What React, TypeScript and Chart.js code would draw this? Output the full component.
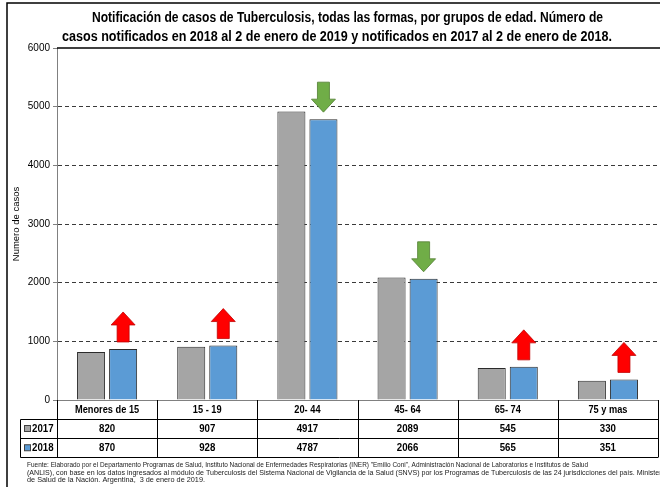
import React, { useEffect, useRef } from 'react';
import { Chart, registerables } from 'chart.js';

Chart.register(...registerables);

const categories = ['Menores de 15', '15 - 19', '20- 44', '45- 64', '65- 74', '75 y mas'];
const cases2017 = [820, 907, 4917, 2089, 545, 330];
const cases2018 = [870, 928, 4787, 2066, 565, 351];
const seriesLabels = ['2017', '2018'];
const yMin = 0;
const yMax = 6000;
const yStep = 1000;
const yTitle = 'Numero de casos';
const titleLines = [
  'Notificación de casos de Tuberculosis, todas las formas, por grupos de edad. Número de',
  'casos notificados en 2018 al 2 de enero de 2019 y notificados en 2017 al 2 de enero de 2018.',
];
const footnoteLines = [
  'Fuente: Elaborado por el Departamento Programas de Salud, Instituto Nacional de Enfermedades Respiratorias (INER) "Emilio Coni", Administración Nacional de Laboratorios e Institutos de Salud',
  '(ANLIS), con base en los datos ingresados al módulo de Tuberculosis del Sistema Nacional de Vigilancia de la Salud (SNVS) por los Programas de Tuberculosis de las 24 jurisdicciones del país. Ministerio',
  'de Salud de la Nación. Argentina,  3 de enero de 2019.',
];

const FONT = "'Liberation Sans', Arial, sans-serif";
const GRAY = '#a5a5a5';
const BLUE = '#5b9bd5';
const BAR_BORDER = '#2b2b2b';

function drawText(
  ctx: CanvasRenderingContext2D,
  text: string,
  x: number,
  y: number,
  font: string,
  align: CanvasTextAlign,
  scaleX: number,
  color = '#000'
) {
  ctx.save();
  ctx.font = font;
  ctx.fillStyle = color;
  ctx.textAlign = align;
  ctx.textBaseline = 'middle';
  const w = ctx.measureText(text).width;
  ctx.fillText(text, x, y, w * scaleX);
  ctx.restore();
}

function drawTextFit(
  ctx: CanvasRenderingContext2D,
  text: string,
  x: number,
  y: number,
  font: string,
  align: CanvasTextAlign,
  width: number,
  color = '#000'
) {
  ctx.save();
  ctx.font = font;
  ctx.fillStyle = color;
  ctx.textAlign = align;
  ctx.textBaseline = 'middle';
  ctx.fillText(text, x, y, width);
  ctx.restore();
}

function drawArrow(ctx: CanvasRenderingContext2D, cx: number, bottom: number, up: boolean) {
  const h = 30;
  const w = 24;
  const shaft = 12;
  const head = 13;
  const top = bottom - h;
  ctx.save();
  ctx.beginPath();
  if (up) {
    ctx.moveTo(cx, top);
    ctx.lineTo(cx + w / 2, top + head);
    ctx.lineTo(cx + shaft / 2, top + head);
    ctx.lineTo(cx + shaft / 2, bottom);
    ctx.lineTo(cx - shaft / 2, bottom);
    ctx.lineTo(cx - shaft / 2, top + head);
    ctx.lineTo(cx - w / 2, top + head);
  } else {
    ctx.moveTo(cx, bottom);
    ctx.lineTo(cx + w / 2, bottom - head);
    ctx.lineTo(cx + shaft / 2, bottom - head);
    ctx.lineTo(cx + shaft / 2, top);
    ctx.lineTo(cx - shaft / 2, top);
    ctx.lineTo(cx - shaft / 2, bottom - head);
    ctx.lineTo(cx - w / 2, bottom - head);
  }
  ctx.closePath();
  ctx.fillStyle = up ? '#ff0000' : '#70ad47';
  ctx.fill();
  ctx.lineWidth = 0.8;
  ctx.strokeStyle = up ? '#c00000' : '#507e32';
  ctx.stroke();
  ctx.restore();
}

const overlayPlugin = {
  id: 'overlay',
  afterDraw(chart: any) {
    const ctx: CanvasRenderingContext2D = chart.ctx;
    const area = chart.chartArea;
    const xs = chart.scales.x;
    const W = chart.width;
    const H = chart.height;

    // outer frame
    ctx.save();
    ctx.strokeStyle = '#000';
    ctx.lineWidth = 1.5;
    ctx.beginPath();
    ctx.moveTo(7, H + 2);
    ctx.lineTo(7, 3);
    ctx.lineTo(W + 2, 3);
    ctx.stroke();
    ctx.restore();

    // title
    drawTextFit(ctx, titleLines[0], 347.5, 18, `bold 14px ${FONT}`, 'center', 511);
    drawTextFit(ctx, titleLines[1], 337, 37, `bold 14px ${FONT}`, 'center', 550);

    // top solid line and bottom axis
    ctx.save();
    ctx.strokeStyle = '#000';
    ctx.lineWidth = 1.5;
    ctx.beginPath();
    ctx.moveTo(area.left, area.top);
    ctx.lineTo(area.right + 2, area.top);
    ctx.stroke();
    ctx.strokeStyle = '#808080';
    ctx.lineWidth = 1;
    ctx.beginPath();
    ctx.moveTo(area.left, area.bottom + 0.5);
    ctx.lineTo(area.right, area.bottom + 0.5);
    ctx.stroke();
    ctx.restore();

    // arrows
    const meta = chart.getDatasetMeta(1);
    meta.data.forEach((bar: any, i: number) => {
      const up = cases2018[i] >= cases2017[i];
      drawArrow(ctx, bar.x, bar.y - 7, up);
    });

    // data table
    const n = categories.length;
    const colW = (xs.right - xs.left) / n;
    const r0 = area.bottom;
    const r1 = r0 + 18.5;
    const r2 = r1 + 19;
    const r3 = r2 + 19.5;
    const legendLeft = 20.5;
    ctx.save();
    ctx.strokeStyle = '#000';
    ctx.lineWidth = 1;
    ctx.beginPath();
    ctx.moveTo(legendLeft, Math.round(r1) + 0.5);
    ctx.lineTo(xs.right, Math.round(r1) + 0.5);
    ctx.moveTo(legendLeft, Math.round(r2) + 0.5);
    ctx.lineTo(xs.right, Math.round(r2) + 0.5);
    ctx.moveTo(legendLeft, Math.round(r3) + 0.5);
    ctx.lineTo(xs.right, Math.round(r3) + 0.5);
    ctx.moveTo(legendLeft, Math.round(r1) + 0.5);
    ctx.lineTo(legendLeft, Math.round(r3) + 0.5);
    for (let i = 0; i <= n; i++) {
      const x = Math.round(xs.left + i * colW) + 0.5;
      ctx.moveTo(x, r0);
      ctx.lineTo(x, Math.round(r3) + 0.5);
    }
    ctx.stroke();
    ctx.restore();

    categories.forEach((c, i) => {
      const cx = xs.getPixelForValue(i);
      drawText(ctx, c, cx, (r0 + r1) / 2 + 1, `bold 11px ${FONT}`, 'center', 0.84);
      drawText(ctx, String(cases2017[i]), cx, (r1 + r2) / 2 + 1, `bold 11px ${FONT}`, 'center', 0.88);
      drawText(ctx, String(cases2018[i]), cx, (r2 + r3) / 2 + 1, `bold 11px ${FONT}`, 'center', 0.88);
    });

    const keys = [
      { label: seriesLabels[0], color: GRAY, y: (r1 + r2) / 2 + 1 },
      { label: seriesLabels[1], color: BLUE, y: (r2 + r3) / 2 + 1 },
    ];
    keys.forEach((k) => {
      ctx.save();
      ctx.fillStyle = k.color;
      ctx.strokeStyle = '#404040';
      ctx.lineWidth = 1;
      ctx.fillRect(24.5, k.y - 3.5, 6, 6);
      ctx.strokeRect(24.5, k.y - 3.5, 6, 6);
      ctx.restore();
      drawText(ctx, k.label, 32, k.y, `bold 11px ${FONT}`, 'left', 0.88);
    });

    // footnote
    const fy = [465, 472.5, 480];
    const fw = [561, 640, 178];
    footnoteLines.forEach((t, i) => {
      drawTextFit(ctx, t, 27, fy[i], `8px ${FONT}`, 'left', fw[i], '#1a1a1a');
    });
  },
};

export default function App() {
  const ref = useRef<HTMLCanvasElement | null>(null);

  useEffect(() => {
    if (!ref.current) return;
    const chart = new Chart(ref.current, {
      type: 'bar',
      data: {
        labels: categories,
        datasets: [
          {
            label: seriesLabels[0],
            data: cases2017,
            backgroundColor: GRAY,
            borderColor: BAR_BORDER,
            borderWidth: 1,
            categoryPercentage: 0.64,
            barPercentage: 0.875,
          },
          {
            label: seriesLabels[1],
            data: cases2018,
            backgroundColor: BLUE,
            borderColor: BAR_BORDER,
            borderWidth: 1,
            categoryPercentage: 0.64,
            barPercentage: 0.875,
          },
        ],
      },
      options: {
        responsive: false,
        animation: false,
        devicePixelRatio: 1,
        layout: { padding: { top: 48, bottom: 87, right: 2, left: 0 } },
        plugins: {
          legend: { display: false },
          title: { display: false },
          tooltip: { enabled: false },
        },
        scales: {
          x: { display: false },
          y: {
            min: yMin,
            max: yMax,
            afterFit: (s: any) => {
              s.width = 57;
            },
            ticks: {
              stepSize: yStep,
              padding: 3,
              color: '#000',
              font: { family: FONT, size: 10 },
              callback: (v: any) => String(v),
            },
            grid: {
              color: (c: any) =>
                c.tick && (c.tick.value === yMin || c.tick.value === yMax) ? 'rgba(0,0,0,0)' : '#3a3a3a',
              tickColor: '#808080',
              tickLength: 4,
              lineWidth: 1,
            },
            border: { display: true, color: '#808080', width: 1, dash: [4, 3] },
            title: {
              display: true,
              text: yTitle,
              color: '#000',
              font: { family: FONT, size: 9.5 },
              padding: { top: 11, bottom: 0 },
            },
          },
        },
      },
      plugins: [overlayPlugin],
    });
    return () => chart.destroy();
  }, []);

  return (
    <div style={{ position: 'fixed', left: 0, top: 0, width: 660, height: 487, background: '#fff' }}>
      <canvas ref={ref} width={660} height={487} style={{ display: 'block' }} />
    </div>
  );
}
